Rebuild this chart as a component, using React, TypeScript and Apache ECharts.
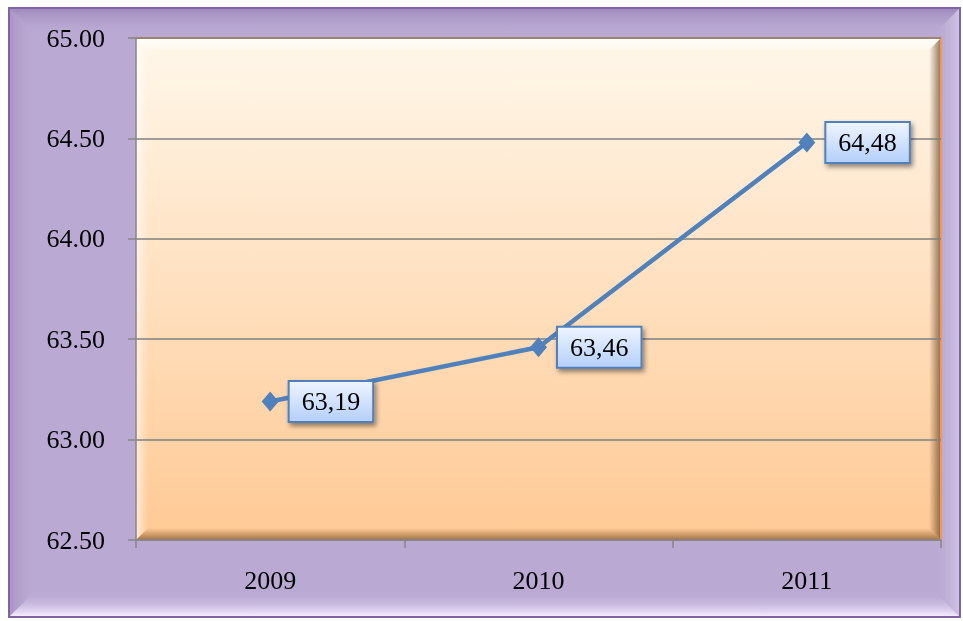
import React, { useEffect, useRef } from "react";
import * as echarts from "echarts";

const categories = ["2009", "2010", "2011"];
const values = [63.19, 63.46, 64.48];
const yMin = 62.5;
const yMax = 65;
const yStep = 0.5;

const FONT = "'Liberation Serif', 'Times New Roman', serif";

export default function App() {
  const ref = useRef<HTMLDivElement>(null);
  useEffect(() => {
    const chart = echarts.init(ref.current!, null, { renderer: "svg" });
    const x0 = 136, y0 = 38, x1 = 941, y1 = 540, w = 12;
    const ox0 = 9, oy0 = 8, ox1 = 960, oy1 = 617, ow = 26;
    const lg = (a: number, b: number, c: number, d: number, c0: string, c1: string) =>
      new echarts.graphic.LinearGradient(a, b, c, d, [
        { offset: 0, color: c0 },
        { offset: 1, color: c1 },
      ]);
    chart.setOption({
      animation: false,
      grid: { left: x0, right: 963 - x1, top: y0, bottom: 621 - y1, show: false },
      graphic: [
        { type: "rect", z: -10, shape: { x: ox0, y: oy0, width: ox1 - ox0, height: oy1 - oy0 }, style: { fill: "#BAA9D3", stroke: "#7F63A4", lineWidth: 2 } },
        { type: "polygon", z: -9, shape: { points: [[ox0 + 1, oy0 + 1], [ox1 - 1, oy0 + 1], [ox1 - ow, oy0 + ow], [ox0 + ow, oy0 + ow]] }, style: { fill: lg(0, 0, 0, 1, "#9E8ABC", "rgba(186,169,211,0)") } },
        { type: "polygon", z: -9, shape: { points: [[ox0 + 1, oy0 + 1], [ox0 + ow, oy0 + ow], [ox0 + ow, oy1 - ow], [ox0 + 1, oy1 - 1]] }, style: { fill: lg(0, 0, 1, 0, "#A894C4", "rgba(186,169,211,0)") } },
        { type: "polygon", z: -9, shape: { points: [[ox1 - 1, oy0 + 1], [ox1 - 1, oy1 - 1], [ox1 - ow, oy1 - ow], [ox1 - ow, oy0 + ow]] }, style: { fill: lg(0, 0, 1, 0, "rgba(186,169,211,0)", "#CFC3E4") } },
        { type: "polygon", z: -9, shape: { points: [[ox0 + 1, oy1 - 1], [ox1 - 1, oy1 - 1], [ox1 - ow, oy1 - ow], [ox0 + ow, oy1 - ow]] }, style: { fill: lg(0, 0, 0, 1, "rgba(186,169,211,0)", "#F4ECFF") } },
        { type: "rect", z: -8, shape: { x: x0, y: y0, width: x1 - x0, height: y1 - y0 }, style: { fill: lg(0, 0, 0, 1, "#FFF7EA", "#FFC994") } },
        { type: "polygon", z: -7, shape: { points: [[x0, y0], [x1, y0], [x1 - w, y0 + w], [x0 + w, y0 + w]] }, style: { fill: lg(0, 0, 0, 1, "rgba(255,255,255,1)", "rgba(255,255,255,0.1)") } },
        { type: "polygon", z: -7, shape: { points: [[x0, y0], [x0 + w, y0 + w], [x0 + w, y1 - w], [x0, y1]] }, style: { fill: lg(0, 0, 1, 0, "rgba(255,255,255,0.6)", "rgba(255,255,255,0)") } },
        { type: "polygon", z: -7, shape: { points: [[x1, y0], [x1, y1], [x1 - w, y1 - w], [x1 - w, y0 + w]] }, style: { fill: lg(0, 0, 1, 0, "rgba(90,60,30,0)", "rgba(90,60,30,0.7)") } },
        { type: "polygon", z: -7, shape: { points: [[x0, y1], [x1, y1], [x1 - w, y1 - w], [x0 + w, y1 - w]] }, style: { fill: lg(0, 0, 0, 1, "rgba(140,90,40,0)", "rgba(120,75,35,0.7)") } },
        { type: "polyline", z: -6, shape: { points: [[x0, y0], [x1, y0], [x1, y1]] }, style: { stroke: "#F79646", lineWidth: 2, fill: "none" } },
      ],
      xAxis: {
        type: "category",
        data: categories,
        boundaryGap: true,
        z: 3,
        axisLine: { show: true, lineStyle: { color: "#868686", width: 1.5 } },
        axisTick: { show: true, inside: false, length: 8, lineStyle: { color: "#868686", width: 1.5 } },
        axisLabel: { margin: 27, color: "#000", fontFamily: FONT, fontSize: 26 },
      },
      yAxis: {
        type: "value",
        min: yMin,
        max: yMax,
        interval: yStep,
        z: 3,
        axisLine: { show: true, lineStyle: { color: "#868686", width: 1.5 } },
        axisTick: { show: true, inside: false, length: 8, lineStyle: { color: "#868686", width: 1.5 } },
        splitLine: { show: true, lineStyle: { color: "#7F7F7F", width: 1.5 } },
        axisLabel: {
          margin: 31,
          color: "#000",
          fontFamily: FONT,
          fontSize: 26,
          formatter: (v: number) => v.toFixed(2),
        },
      },
      series: [
        {
          type: "line",
          data: values,
          z: 5,
          lineStyle: { color: "#4F81BD", width: 4.5 },
          itemStyle: { color: "#4F81BD" },
          symbol: "diamond",
          symbolSize: [17, 20],
          label: {
            show: true,
            position: "right",
            distance: 11,
            formatter: (p: any) => p.value.toFixed(2).replace(".", ","),
            color: "#000",
            fontFamily: FONT,
            fontSize: 26,
            padding: [7, 12, 6, 12],
            backgroundColor: lg(0, 0, 0, 1, "#EEF4FF", "#B5D0FA"),
            borderColor: "#4F81BD",
            borderWidth: 2,
            shadowColor: "rgba(0,0,0,0.45)",
            shadowBlur: 5,
            shadowOffsetX: 2,
            shadowOffsetY: 3,
          },
        },
      ],
    });
    return () => chart.dispose();
  }, []);
  return <div ref={ref} style={{ position: "fixed", left: 0, top: 0, width: 963, height: 621 }} />;
}
